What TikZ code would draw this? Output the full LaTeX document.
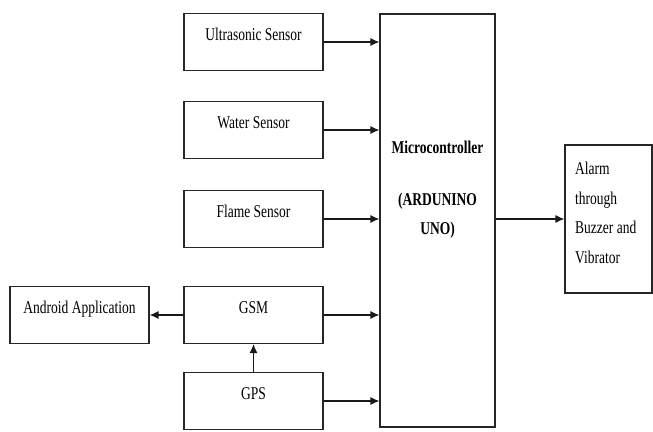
\documentclass[tikz,border=0pt]{standalone}
\usepackage{fontspec}
\setmainfont{Liberation Serif}[FakeStretch=0.75]
\usetikzlibrary{arrows.meta}

\tikzset{
  block/.style={draw=black!85, line width=1.1pt, minimum width=139pt, minimum height=57pt,
    inner sep=0pt, text height=12pt, text depth=15pt},
  link/.style={-{Latex[length=9pt,width=8pt]}, line width=1.2pt, black!90},
}

\begin{document}
\begin{tikzpicture}[x=1pt, y=-1pt, font=\fontsize{18}{29.5}\selectfont]
  \useasboundingbox (0,0) rectangle (653,431);

  % Inputs
  \node[block] (ultra) at (253.5,42) {Ultrasonic Sensor};
  \node[block] (water) at (253.5,130) {Water Sensor};
  \node[block] (flame) at (253.5,219) {Flame Sensor};
  \node[block] (gsm) at (253.5,315) {GSM};
  \node[block] (gps) at (253.5,401) {GPS};
  \node[block] (android) at (79.5,315) {Android Application};

  % Controller
  \node[draw=black!85, line width=1.1pt, minimum width=115pt, minimum height=413pt] (mc) at (437.5,220.5) {};
  \node[align=center, font=\fontsize{18}{29}\selectfont\bfseries] (mctext) at (437.5,190)
    {Microcontroller\\[23pt](ARDUNINO\\UNO)};

  % Output
  \node[draw=black!85, line width=1.1pt, minimum width=87pt, minimum height=148pt] (alarm) at (608.5,219) {};
  \node[align=left, anchor=west, inner sep=0pt] (alarmtext) at (575,213)
    {Alarm\\through\\Buzzer and\\Vibrator};

  % Connections
  \foreach \src in {ultra,water,flame,gsm,gps}
    \draw[link] (\src.east) -- (\src.east -| mc.west);
  \draw[link] (gsm.west) -- (android.east);
  \draw[link] (gps.north) -- (gsm.south);
  \draw[link] (mc.east |- alarm.west) -- (alarm.west);
\end{tikzpicture}
\end{document}
